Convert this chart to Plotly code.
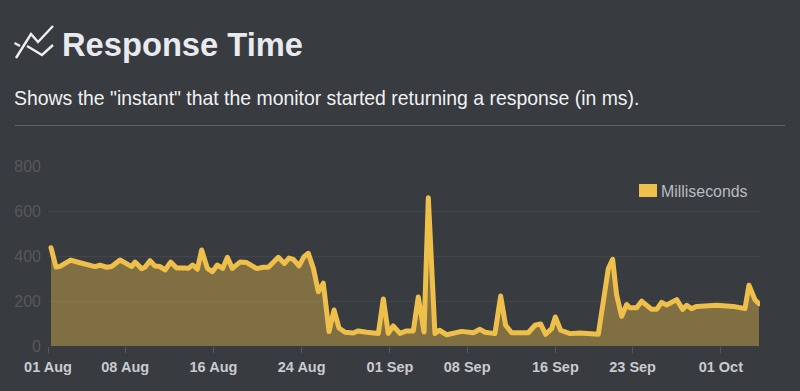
import plotly.graph_objects as go
import pandas as pd

# days elapsed since 01 Aug, and response time in ms
days = [0.27,0.73,1.09,2.05,2.9,3.8,4.26,4.71,5.32,5.77,6.53,7.59,7.89,8.49,8.79,9.25,9.7,10.15,10.61,11.12,
        11.67,12.42,12.72,13.12,13.54,13.93,14.45,14.9,15.35,15.84,16.26,16.71,17.41,18.01,18.92,19.52,19.98,20.88,21.43,21.85,
        22.24,22.76,23.21,23.6,24.06,24.51,24.96,25.48,25.93,26.38,26.93,27.68,28.13,28.89,29.95,30.4,30.85,31.3,31.91,32.51,
        33.12,33.57,34.09,34.48,35.08,35.48,36.14,37.5,38.56,39.16,39.62,40.52,41.04,41.49,42.03,43.54,44.15,44.66,45.12,45.66,
        45.99,46.48,47.32,48.23,49.89,50.8,51.19,51.55,52.01,52.46,52.76,53.37,53.82,54.73,55.18,55.63,56.09,57.0,57.54,57.9,
        58.35,58.81,60.62,62.13,63.19,63.55,64.09,64.46]
milliseconds = [437,351,354,382,370,356,353,359,350,353,382,353,373,344,350,379,356,353,338,373,
        347,347,345,360,341,427,345,330,360,345,394,345,373,371,344,350,350,394,367,391,
        385,356,397,412,345,241,279,64,160,80,61,58,67,61,56,209,56,89,56,67,
        67,218,62,659,55,70,50,65,59,74,61,55,222,92,59,59,92,98,52,77,
        129,70,55,58,52,344,385,227,132,184,170,170,199,163,163,194,182,206,163,181,
        166,176,181,176,166,270,206,188]
tick_dates = ["2017-08-01","2017-08-08","2017-08-16","2017-08-24","2017-09-01","2017-09-08","2017-09-16","2017-09-23","2017-10-01"]
tick_labels = ["01 Aug","08 Aug","16 Aug","24 Aug","01 Sep","08 Sep","16 Sep","23 Sep","01 Oct"]
y_ticks = [0,200,400,600,800]

W, H = 800, 391
BG = "#383b3f"
GOLD = "#eebf4a"
FONT = "Liberation Sans"
px = lambda x: x / W
py = lambda y: 1 - y / H

start = pd.Timestamp("2017-08-01")
dates = [start + pd.Timedelta(days=d) for d in days]

fig = go.Figure(go.Scatter(
    x=dates, y=milliseconds, mode="lines", name="Milliseconds",
    line=dict(color=GOLD, width=5, shape="linear"),
    fill="tozeroy", fillcolor="rgba(238,191,74,0.4)", showlegend=False,
    hoverinfo="skip",
))

def seg(pts, width=2.4):
    return dict(type="path", xref="paper", yref="paper",
                path="M " + " L ".join(f"{px(x):.5f},{py(y):.5f}" for x, y in pts),
                line=dict(color="#eceef2", width=width), fillcolor="rgba(0,0,0,0)", layer="above")

shapes = [
    dict(type="line", xref="paper", yref="paper", x0=px(15), x1=px(785), y0=py(125.5), y1=py(125.5),
         line=dict(color="#606265", width=1)),
    dict(type="rect", xref="paper", yref="paper", x0=px(639), x1=px(657), y0=py(184), y1=py(197),
         fillcolor=GOLD, line=dict(width=0)),
    seg([(16, 58), (31, 34), (38, 42), (53, 26)]),
    seg([(14.5, 43), (20, 46)]),
    seg([(27, 46), (42, 55), (53, 45)]),
]

annotations = [
    dict(text="<b>Response Time</b>", x=px(60), y=py(45), xref="paper", yref="paper", xanchor="left", yanchor="middle",
         showarrow=False, font=dict(family=FONT, size=32.7, color="#e8eaef")),
    dict(text='Shows the "instant" that the monitor started returning a response (in ms).', x=px(12), y=py(98),
         xref="paper", yref="paper", xanchor="left", yanchor="middle", showarrow=False,
         font=dict(family=FONT, size=19.42, color="#f0f1f3")),
    dict(text="Milliseconds", x=px(659), y=py(191), xref="paper", yref="paper", xanchor="left", yanchor="middle",
         showarrow=False, font=dict(family=FONT, size=15.9, color="#b9bcc0")),
]

fig.update_layout(
    width=W, height=H, autosize=False, paper_bgcolor=BG, plot_bgcolor=BG,
    margin=dict(l=0, r=0, t=0, b=0, autoexpand=False), shapes=shapes, annotations=annotations,
    font=dict(family=FONT),
    xaxis=dict(domain=[px(48), px(760)], type="date", automargin=False,
               range=[start, start + pd.Timedelta(days=64.55)],
               tickmode="array", tickvals=tick_dates, ticktext=[f"<b>{t}</b>" for t in tick_labels],
               ticks="outside", ticklen=6, tickwidth=1, tickcolor="#5c5a4c", ticklabelstandoff=2,
               tickfont=dict(family=FONT, size=14.5, color="#c9cbcf"),
               showgrid=False, showline=False, zeroline=False),
    yaxis=dict(domain=[py(346), py(166)], range=[0, 800], tickmode="array", tickvals=y_ticks, automargin=False,
               ticks="", ticklabelstandoff=6, tickfont=dict(family=FONT, size=16, color="#56595c"),
               showgrid=True, gridcolor="#424549", gridwidth=1, zeroline=False, showline=False),
)

fig.write_html(
    "out.html",
    config={"displayModeBar": False},
    post_script=("document.body.style.margin='0';document.body.style.background='#383b3f';"
                 "document.body.style.overflow='hidden';"
                 "document.querySelectorAll('.js-line').forEach(function(p){p.style.strokeLinejoin='round';p.style.strokeLinecap='round';});"),
)
